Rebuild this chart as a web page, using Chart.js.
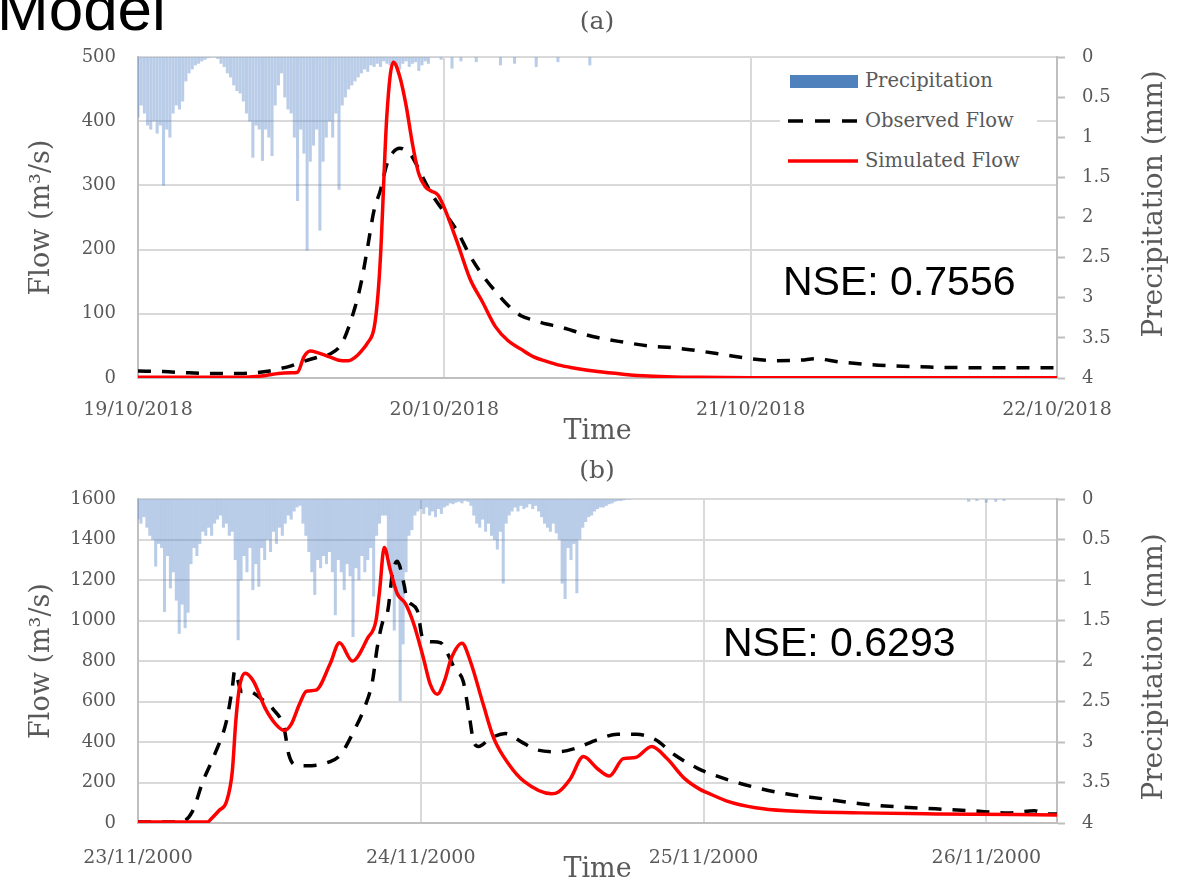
<!DOCTYPE html>
<html>
<head>
<meta charset="utf-8">
<script src="https://cdn.jsdelivr.net/npm/chart.js@4.4.1/dist/chart.umd.min.js"></script>
<style>
    body { margin: 0; width: 1183px; height: 881px; overflow: hidden; background: #fff; position: relative; font-family: "DejaVu Serif", serif; color: #595959; }
    canvas { position: absolute; left: 0; }
    #chartA { top: 0; }
    #chartB { top: 440px; }
    .txt { position: absolute; white-space: nowrap; line-height: 1; }
    .nse { font-family: "Liberation Sans", Arial, sans-serif; font-size: 41px; color: #000; }
    .panel { font-size: 25px; transform: translateX(-50%); }
    .ytitle { font-size: 28px; transform: translate(-50%, -50%) rotate(-90deg); }
    #legend { position: absolute; left: 780px; top: 63px; width: 257px; height: 117px; background: #fff; }
    .legText { position: absolute; left: 85px; font-size: 19.5px; line-height: 1; }
</style>
</head>
<body>
<canvas id="chartA" width="1183" height="460"></canvas>
<canvas id="chartB" width="1183" height="460"></canvas>

<div class="txt" style="left:-3px; top:-22px; font-family:'Liberation Sans', Arial, sans-serif; font-size:62px; color:#000;">Model</div>
<div class="txt panel" style="left:597px; top:8px;">(a)</div>
<div class="txt panel" style="left:597px; top:457px;">(b)</div>
<div class="txt nse" style="left:783px; top:261px;">NSE: 0.7556</div>
<div class="txt nse" style="left:723px; top:622px;">NSE: 0.6293</div>
<div class="txt ytitle" style="left:1153px; top:204px;">Precipitation (mm)</div>
<div class="txt ytitle" style="left:1153px; top:667px;">Precipitation (mm)</div>

<div id="legend">
    <div style="position:absolute; left:10px; top:12px; width:68px; height:13px; background:#4f81bd;"></div>
    <svg style="position:absolute; left:0; top:0;" width="257" height="117">
        <line x1="8" y1="58" x2="78" y2="58" stroke="#000" stroke-width="3.5" stroke-dasharray="15 12"></line>
        <line x1="8" y1="98" x2="78" y2="98" stroke="#ff0000" stroke-width="3.5"></line>
    </svg>
    <div class="legText" style="top:8px;">Precipitation</div>
    <div class="legText" style="top:48px;">Observed Flow</div>
    <div class="legText" style="top:88px;">Simulated Flow</div>
</div>

<script>
// precipitation is stored in 15 minute steps (hours from the first date)
const precipStep = 0.25;

// ---- chart (a): 19/10/2018 - 22/10/2018 ----
const dayTicksA = [0, 24, 48, 72];
const dateLabelsA = ['19/10/2018', '20/10/2018', '21/10/2018', '22/10/2018'];
const hoursMaxA = 72;
const flowMaxA = 500;
const flowStepA = 100;

const obsHoursA = [0, 2, 4, 6, 8, 9, 10, 11, 12, 13, 14, 15, 16, 17, 17.5, 18, 18.5, 19, 19.5, 20, 20.5, 21, 21.5, 22, 23, 24, 25, 26, 27, 28, 29, 30, 31, 32, 33, 34, 35, 36, 38, 40, 42, 44, 46, 48, 50, 52, 53, 55, 58, 62, 66, 72];
const obsFlowA = [11, 10, 8, 7, 7, 8, 10, 14, 19, 26, 32, 37, 55, 110, 150, 205, 262, 293, 333, 352, 358, 354, 344, 325, 287, 258, 229, 191, 160, 135, 113, 97, 90, 84, 80, 74, 68, 63, 56, 50, 47, 42, 36, 30, 27, 28, 30, 25, 20, 17, 16, 16];

const simHoursA = [0, 8, 9, 10, 11, 12, 12.5, 13, 13.5, 14, 15, 16, 16.5, 17, 17.5, 18, 18.5, 18.8, 19, 19.5, 20, 20.5, 21, 21.5, 22, 22.5, 23, 23.5, 24, 25, 26, 27, 28, 29, 30, 31, 32, 33, 34, 36, 38, 40, 42, 44, 48, 72];
const simFlowA = [1, 1, 2, 4, 7, 8, 9, 33, 42, 40, 33, 27, 27, 32, 42, 55, 78, 130, 190, 410, 492, 470, 425, 365, 318, 298, 291, 285, 265, 212, 155, 118, 80, 58, 45, 33, 26, 20, 16, 10, 6, 3, 1.5, 1, 0.5, 0.5];

const precipA = [
    0.75, 0.6, 0.7, 0.85,   0.9, 0.8, 0.95, 0.85,   1.6, 0.9, 1.0, 0.7,   0.6, 0.65, 0.55, 0.3,
    0.2, 0.15, 0.1, 0.08,   0.05, 0.03, 0.01, 0,    0, 0.02, 0.08, 0.12,  0.2, 0.25, 0.35, 0.42,
    0.45, 0.55, 0.7, 0.8,   1.25, 0.85, 0.9, 1.29,  0.9, 1.0, 1.23, 0.6,  0.35, 0.2, 0.5, 0.65,
    0.7, 1.0, 1.79, 0.9,    1.2, 2.41, 1.3, 1.1,    0.9, 2.16, 1.3, 1.0,  0.8, 1.0, 0.7, 1.65,
    0.6, 0.5, 0.4, 0.35,    0.3, 0.25, 0.2, 0.15,   0.18, 0.1, 0.12, 0.08, 0.12, 0.05, 0.08, 0.1,
    0.06, 0.1, 0.15, 0.08,  0.05, 0.12, 0.08, 0.06, 0.17, 0.1, 0.05, 0.08, 0, 0, 0, 0.03
];
const precipLateHoursA = [24.6, 25.3, 26.5, 28.4, 29.5, 31.2, 32.9, 35.4];
const precipLateA = [0.14, 0.05, 0.06, 0.1, 0.08, 0.12, 0.06, 0.1];

// ---- chart (b): 23/11/2000 - 26/11/2000 ----
const dayTicksB = [0, 24, 48, 72];
const dateLabelsB = ['23/11/2000', '24/11/2000', '25/11/2000', '26/11/2000'];
const hoursMaxB = 78;
const flowMaxB = 1600;
const flowStepB = 200;

const obsHoursB = [0, 3.6, 4.6, 5.5, 6.5, 7.5, 8.0, 8.2, 8.8, 9.4, 10.4, 11.5, 12.4, 12.8, 13.3, 14.3, 16.3, 17.2, 18.3, 19.2, 19.9, 20.3, 20.8, 21.2, 21.6, 22.0, 22.6, 22.8, 23.7, 24.2, 25.0, 25.7, 26.3, 26.9, 27.6, 28.1, 28.5, 28.9, 29.9, 31.2, 32.5, 33.8, 35.7, 37.1, 39.0, 40.7, 42.3, 43.9, 45.5, 47.5, 48.6, 50.6, 52.8, 55, 58.1, 61.3, 64.4, 67.7, 70.8, 73.9, 76.1, 77.1, 78];
const obsFlowB = [5, 5, 55, 204, 338, 502, 666, 750, 650, 650, 616, 560, 468, 338, 288, 283, 303, 338, 452, 566, 700, 865, 1000, 1048, 1232, 1292, 1172, 1110, 1050, 905, 895, 890, 834, 760, 700, 536, 400, 378, 418, 442, 402, 362, 352, 368, 412, 438, 438, 412, 338, 270, 243, 204, 170, 144, 120, 95, 80, 70, 60, 50, 60, 45, 45];

const simHoursB = [0, 5.9, 6.2, 6.9, 7.5, 8.0, 8.3, 8.6, 9.1, 9.8, 10.8, 11.7, 12.4, 13.0, 13.7, 14.3, 15.1, 16.3, 17.1, 18.2, 19.5, 20.2, 20.5, 20.9, 21.4, 22.0, 22.7, 23.4, 24.2, 24.8, 25.4, 26.0, 26.6, 27.5, 28.2, 29.3, 30.2, 31.5, 32.8, 35.1, 35.7, 36.7, 37.8, 39.0, 40.0, 41.2, 42.2, 43.6, 44.9, 46.4, 47.7, 48.3, 50.2, 52.4, 55, 61.3, 67.7, 78];
const simFlowB = [5, 5, 20, 63, 104, 253, 502, 666, 740, 700, 566, 487, 457, 487, 586, 651, 656, 785, 890, 800, 914, 1000, 1143, 1360, 1252, 1133, 1083, 984, 820, 686, 636, 700, 815, 888, 800, 586, 418, 288, 204, 144, 154, 219, 328, 268, 232, 318, 323, 378, 318, 219, 166, 150, 104, 75, 60, 50, 45, 40];

const precipB = [
    0.25, 0.3, 0.22, 0.35,  0.45, 0.5, 0.83, 0.55,  0.6, 1.39, 0.7, 1.1,  0.9, 1.25, 1.66, 1.3,
    1.59, 1.4, 0.8, 0.6,    0.7, 0.55, 0.4, 0.45,   0.35, 0.45, 0.3, 0.25, 0.2, 0.35, 0.3, 0.45,
    0.4, 0.75, 1.74, 1.0,   0.7, 0.9, 0.6, 1.12,    0.8, 1.08, 0.6, 0.75, 0.5, 0.65, 0.4, 0.55,
    0.35, 0.45, 0.3, 0.2,   0.25, 0.15, 0.1, 0.08,  0.3, 0.45, 0.65, 0.9, 1.18, 0.75, 0.85, 0.7,
    0.8, 0.65, 0.9, 1.43,   0.75, 0.9, 1.12, 0.8,   0.95, 1.7, 0.85, 1.0, 0.7, 0.9, 0.75, 0.6,
    1.2, 0.45, 0.3, 0.2,    0.2, 0.7, 1.0, 1.62,    1.2, 2.49, 1.79, 0.9, 0.45, 0.38, 0.2, 0.15,
    0.12, 0.18, 0.1, 0.2,   0.15, 0.22, 0.12, 0.18, 0.1, 0.08, 0.05, 0.06, 0.04, 0.03, 0.05, 0.02,
    0.03, 0.08, 0.2, 0.3,   0.35, 0.25, 0.4, 0.3,   0.45, 0.5, 0.62, 0.4, 1.04, 0.3, 0.2, 0.15,
    0.1, 0.15, 0.08, 0.12,  0.1, 0.06, 0.12, 0.08,  0.15, 0.22, 0.3, 0.35, 0.4, 0.3, 0.42, 0.5,
    1.04, 1.23, 0.6, 0.75,  0.55, 1.16, 0.5, 0.35,  0.28, 0.22, 0.2, 0.15, 0.12, 0.1, 0.1, 0.08,
    0.06, 0.05, 0.03, 0.02, 0.02, 0.01, 0, 0
];
const precipLateHoursB = [70.5, 71.2, 72.0, 72.8, 73.5];
const precipLateB = [0.03, 0.02, 0.04, 0.03, 0.02];

const precipMax = 4;
const precipTickStep = 0.5;

const labelGrey = '#595959';
Chart.defaults.font.family = '"DejaVu Serif", serif';
Chart.defaults.color = labelGrey;

function toPoints(xs, ys) {
    return xs.map((x, i) => ({ x: x, y: ys[i] }));
}

function precipPoints(steps, lateHours, lateVals) {
    const pts = steps.map((v, i) => ({ x: i * precipStep, y: v }));
    return pts.concat(toPoints(lateHours, lateVals));
}

// Build one of the two hydrograph panels
function makeChart(canvasId, s) {
    const ctx = document.getElementById(canvasId).getContext('2d');
    return new Chart(ctx, {
        type: 'line',
        data: {
            datasets: [
                {
                    label: 'Simulated Flow',
                    data: toPoints(s.simHours, s.simFlow),
                    borderColor: '#ff0000',
                    borderWidth: 3.5,
                    pointRadius: 0,
                    cubicInterpolationMode: 'monotone',
                    yAxisID: 'y',
                    order: 0
                },
                {
                    label: 'Observed Flow',
                    data: toPoints(s.obsHours, s.obsFlow),
                    borderColor: '#000000',
                    borderWidth: 3.5,
                    borderDash: [13, 11],
                    pointRadius: 0,
                    cubicInterpolationMode: 'monotone',
                    yAxisID: 'y',
                    order: 1
                },
                {
                    type: 'bar',
                    label: 'Precipitation',
                    data: s.precip,
                    backgroundColor: 'rgba(90,135,200,0.42)',
                    barThickness: 2.4,
                    yAxisID: 'y2',
                    order: 2
                }
            ]
        },
        options: {
            responsive: false,
            animation: false,
            layout: { padding: { top: s.padTop, bottom: s.padBottom, left: 0, right: 0 } },
            plugins: {
                legend: { display: false },
                tooltip: { enabled: false }
            },
            scales: {
                x: {
                    type: 'linear',
                    min: 0,
                    max: s.hoursMax,
                    offset: false,
                    afterBuildTicks: (scale) => { scale.ticks = s.dayTicks.map(v => ({ value: v })); },
                    ticks: {
                        callback: (v, i) => s.dateLabels[i],
                        font: { size: 19 },
                        padding: s.xPad,
                        maxRotation: 0,
                        autoSkip: false
                    },
                    grid: { color: '#d9d9d9', lineWidth: 2, drawTicks: false, offset: false },
                    border: { color: '#bfbfbf', width: 2 },
                    title: { display: true, text: 'Time', font: { size: 27 }, padding: 0 },
                    afterFit: (scale) => { scale.height = s.xHeight; }
                },
                y: {
                    position: 'left',
                    min: 0,
                    max: s.flowMax,
                    ticks: { stepSize: s.flowStep, font: { size: 18 }, padding: 22, callback: (v) => String(v) },
                    grid: { color: '#d9d9d9', lineWidth: 2, drawTicks: false },
                    border: { color: '#bfbfbf', width: 2 },
                    title: { display: true, text: 'Flow (m³/s)', font: { size: 27 }, padding: { top: 26 } },
                    afterFit: (scale) => { scale.width = 138; }
                },
                y2: {
                    position: 'right',
                    min: 0,
                    max: precipMax,
                    reverse: true,
                    ticks: { stepSize: precipTickStep, font: { size: 18 }, padding: 17, callback: (v) => String(v) },
                    grid: { drawOnChartArea: false, tickLength: 8, tickColor: '#bfbfbf', tickWidth: 2 },
                    border: { color: '#bfbfbf', width: 2 },
                    afterFit: (scale) => { scale.width = 126; }
                }
            }
        }
    });
}

makeChart('chartA', {
    simHours: simHoursA, simFlow: simFlowA,
    obsHours: obsHoursA, obsFlow: obsFlowA,
    precip: precipPoints(precipA, precipLateHoursA, precipLateA),
    hoursMax: hoursMaxA, dayTicks: dayTicksA, dateLabels: dateLabelsA,
    flowMax: flowMaxA, flowStep: flowStepA,
    padTop: 57, padBottom: 12, xHeight: 70, xPad: 21
});

makeChart('chartB', {
    simHours: simHoursB, simFlow: simFlowB,
    obsHours: obsHoursB, obsFlow: obsFlowB,
    precip: precipPoints(precipB, precipLateHoursB, precipLateB),
    hoursMax: hoursMaxB, dayTicks: dayTicksB, dateLabels: dateLabelsB,
    flowMax: flowMaxB, flowStep: flowStepB,
    padTop: 59, padBottom: 14, xHeight: 63, xPad: 24
});
</script>
</body>
</html>
